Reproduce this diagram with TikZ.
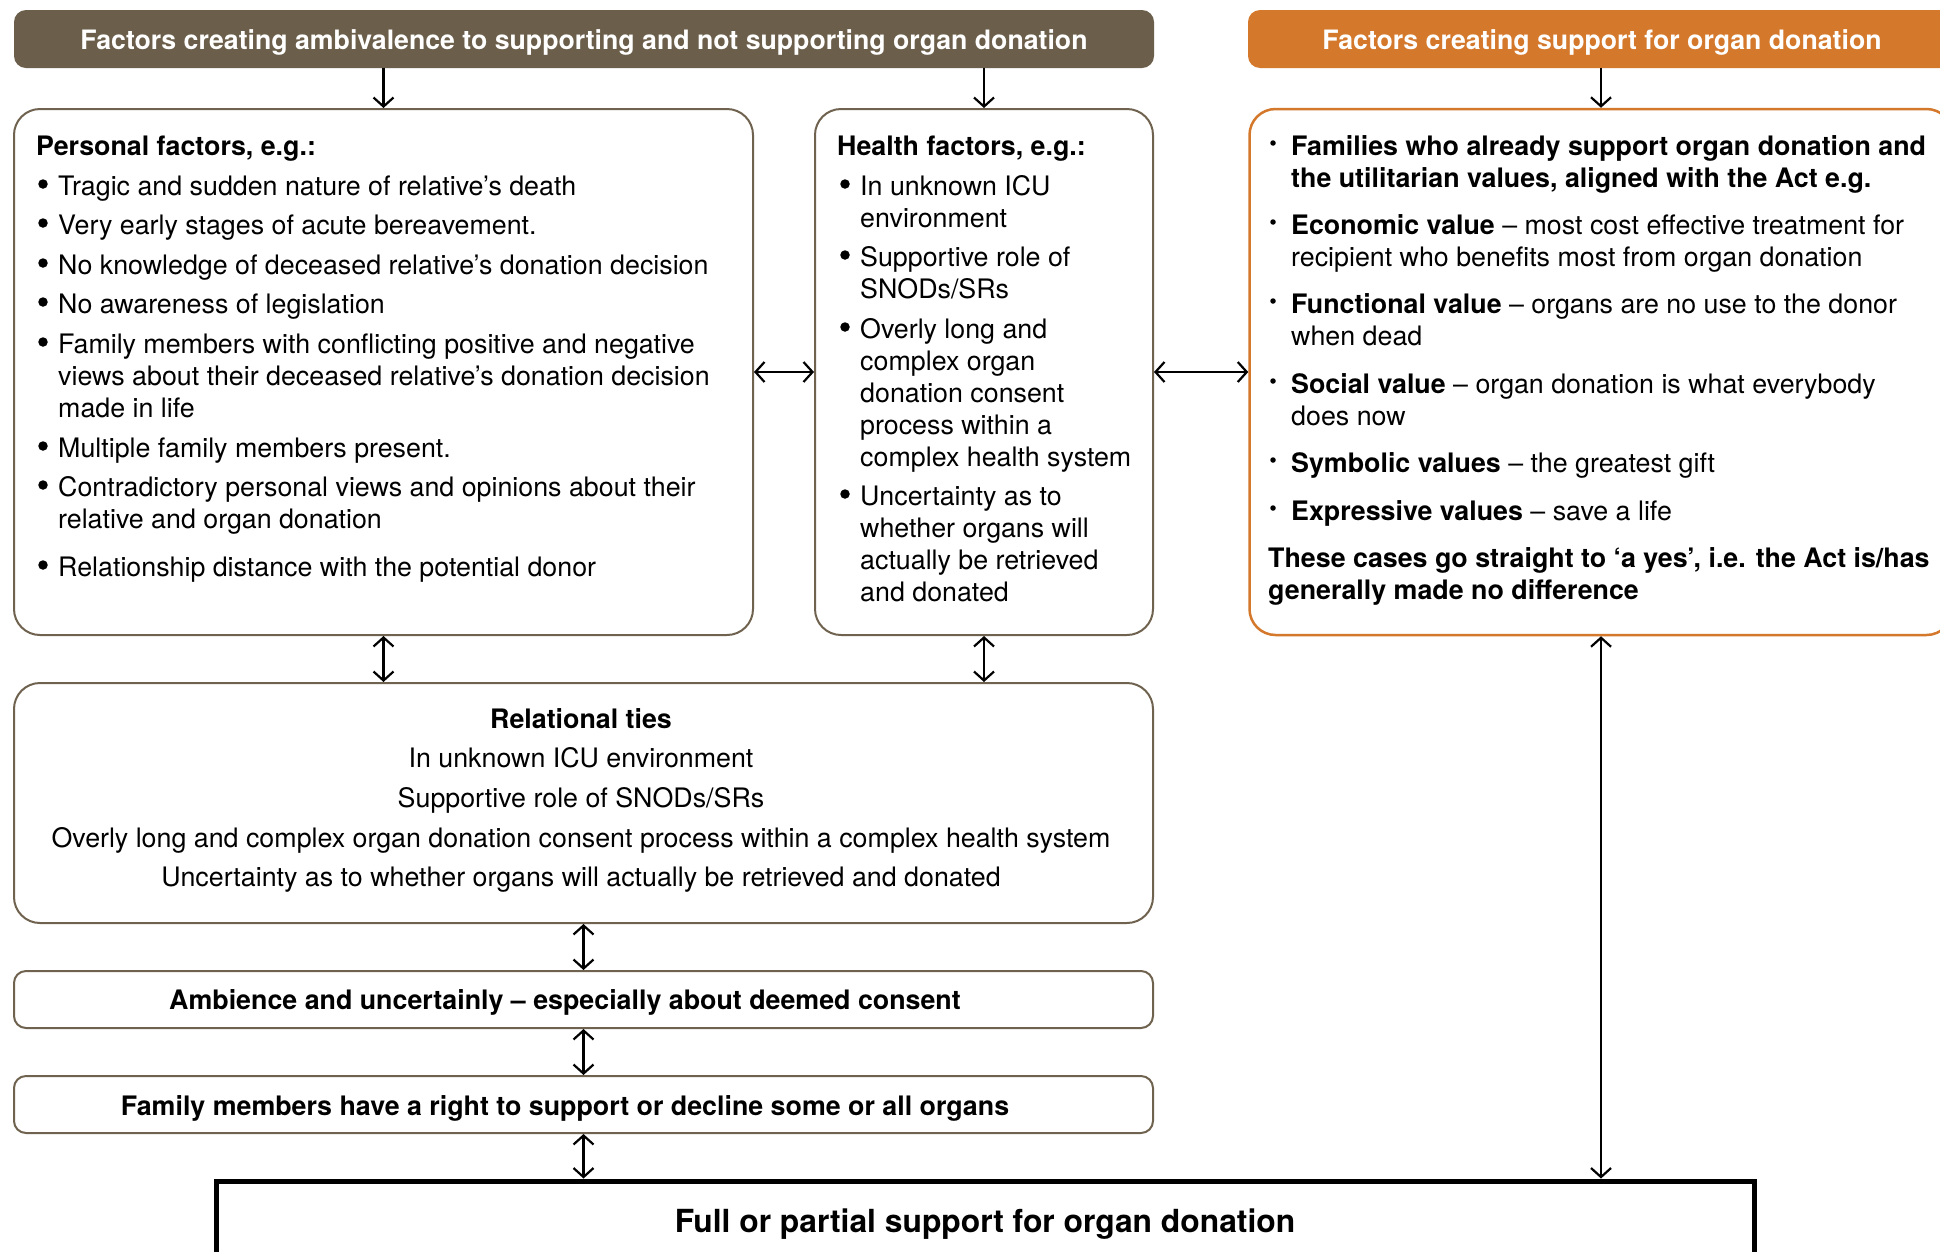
\documentclass[tikz,border=0pt]{standalone}
\usepackage{fontspec}
\setmainfont{TeX Gyre Heros}
\usetikzlibrary{arrows.meta}
\definecolor{hdrbrown}{HTML}{6B5E4A}
\definecolor{hdrorange}{HTML}{D4782C}
\definecolor{boxbrown}{HTML}{6F6350}
\newcounter{tcnt}
\newcommand\mytline[3]{\stepcounter{tcnt}\node[txt,anchor=base west] (t\arabic{tcnt}) at ({#1},{#2+9.3}) {#3};}
\newcommand\myctline[3]{\stepcounter{tcnt}\node[txt,anchor=base] (t\arabic{tcnt}) at ({#1},{#2+9.3}) {#3};}
\newcommand\bigbul[2]{\stepcounter{tcnt}\node[bulbig] (t\arabic{tcnt}) at ({#1},{#2-2}) {};}
\newcommand\smbul[2]{\stepcounter{tcnt}\node[bulsm] (t\arabic{tcnt}) at ({#1},{#2-3}) {};}
\begin{document}
\begin{tikzpicture}[x=1pt,y=-1pt,
  txt/.style={inner sep=0pt,font=\fontsize{26.8}{32}\selectfont},
  bulbig/.style={circle,fill=black,inner sep=0pt,minimum size=9.5pt},
  bulsm/.style={circle,fill=black,inner sep=0pt,minimum size=5.5pt},
  hdr/.style={rounded corners=12pt,inner sep=0pt},
  hdrtxt/.style={txt,text=white,font=\fontsize{26.7}{32}\selectfont\bfseries},
  bbox/.style={draw=boxbrown,line width=2pt,rounded corners=26pt,inner sep=0pt},
  sbox/.style={draw=boxbrown,line width=2pt,rounded corners=12pt,inner sep=0pt},
  obox/.style={draw=hdrorange,line width=2.5pt,rounded corners=26pt,inner sep=0pt},
  arr/.style={{Straight Barb[length=9pt,width=20pt]}-{Straight Barb[length=9pt,width=20pt]},line width=2.2pt},
  arrone/.style={-{Straight Barb[length=9pt,width=20pt]},line width=2.2pt}]
\useasboundingbox (0,0) rectangle (1940,1251);
\fill[white] (0,0) rectangle (1940,1251);
% headers
\node[hdr,fill=hdrbrown,minimum width=1140pt,minimum height=58pt] (hdr1) at (584,39) {};
\node[hdr,fill=hdrorange,minimum width=708pt,minimum height=58pt] (hdr2) at (1602,39) {};
\node[hdrtxt,anchor=base] (hdr1txt) at (584,49.5) {Factors creating ambivalence to supporting and not supporting organ donation};
\node[hdrtxt,anchor=base] (hdr2txt) at (1602,49.5) {Factors creating support for organ donation};
% boxes
\node[bbox,minimum width=739pt,minimum height=526pt] (personal) at (383.5,372) {};
\node[bbox,minimum width=338pt,minimum height=526pt] (health) at (984,372) {};
\node[obox,minimum width=703pt,minimum height=526pt] (orange) at (1601,372) {};
\node[bbox,minimum width=1139pt,minimum height=240pt] (rel) at (583.5,803) {};
\node[sbox,minimum width=1139pt,minimum height=57pt] (amb) at (583.5,999.5) {};
\node[sbox,minimum width=1139pt,minimum height=57pt] (fam) at (583.5,1104.5) {};
\node[draw=black,line width=5pt,minimum width=1538pt,minimum height=80pt,inner sep=0pt] (final) at (985,1221) {};
\myctline{565}{1000}{\textbf{Ambience and uncertainly – especially about deemed consent}}
\myctline{565}{1106}{\textbf{Family members have a right to support or decline some or all organs}}
\node[txt,anchor=base,font=\fontsize{31.8}{36}\selectfont\bfseries] (finaltxt) at (985,1232) {Full or partial support for organ donation};
% personal text
\mytline{36}{146}{\textbf{Personal factors, e.g.:}}
\bigbul{43}{186}\mytline{58}{186}{Tragic and sudden nature of relative’s death}
\bigbul{43}{225}\mytline{58}{225}{Very early stages of acute bereavement.}
\bigbul{43}{265}\mytline{58}{265}{No knowledge of deceased relative’s donation decision}
\bigbul{43}{304}\mytline{58}{304}{No awareness of legislation}
\bigbul{43}{344}\mytline{58}{344}{Family members with conflicting positive and negative}
\mytline{58}{376}{views about their deceased relative’s donation decision}
\mytline{58}{408}{made in life}
\bigbul{43}{448}\mytline{58}{448}{Multiple family members present.}
\bigbul{43}{487}\mytline{58}{487}{Contradictory personal views and opinions about their}
\mytline{58}{519}{relative and organ donation}
\bigbul{43}{567}\mytline{58}{567}{Relationship distance with the potential donor}
% health text
\mytline{837}{146}{\textbf{Health factors, e.g.:}}
\bigbul{845}{186}\mytline{860}{186}{In unknown ICU}
\mytline{860}{218}{environment}
\bigbul{845}{257}\mytline{860}{257}{Supportive role of}
\mytline{860}{289}{SNODs/SRs}
\bigbul{845}{329}\mytline{860}{329}{Overly long and}
\mytline{860}{361}{complex organ}
\mytline{860}{393}{donation consent}
\mytline{860}{425}{process within a}
\mytline{860}{457}{complex health system}
\bigbul{845}{496}\mytline{860}{496}{Uncertainty as to}
\mytline{860}{528}{whether organs will}
\mytline{860}{560}{actually be retrieved}
\mytline{860}{592}{and donated}
% orange text
\smbul{1273}{146}\mytline{1291}{146}{\textbf{Families who already support organ donation and}}
\mytline{1291}{178}{\textbf{the utilitarian values, aligned with the Act e.g.}}
\smbul{1273}{225}\mytline{1291}{225}{\textbf{Economic value} – most cost effective treatment for}
\mytline{1291}{257}{recipient who benefits most from organ donation}
\smbul{1273}{304}\mytline{1291}{304}{\textbf{Functional value} – organs are no use to the donor}
\mytline{1291}{336}{when dead}
\smbul{1273}{384}\mytline{1291}{384}{\textbf{Social value} – organ donation is what everybody}
\mytline{1291}{416}{does now}
\smbul{1273}{463}\mytline{1291}{463}{\textbf{Symbolic values} – the greatest gift}
\smbul{1273}{511}\mytline{1291}{511}{\textbf{Expressive values} – save a life}
\mytline{1268}{558}{\textbf{These cases go straight to ‘a yes’, i.e. the Act is/has}}
\mytline{1268}{590}{\textbf{generally made no difference}}
% relational text
\myctline{581}{719}{\textbf{Relational ties}}
\myctline{581}{758}{In unknown ICU environment}
\myctline{581}{798}{Supportive role of SNODs/SRs}
\myctline{581}{838}{Overly long and complex organ donation consent process within a complex health system}
\myctline{581}{877}{Uncertainty as to whether organs will actually be retrieved and donated}
% connectors
\draw[arrone] (personal.north |- hdr1.south) -- (personal.north);
\draw[arrone] (health.north |- hdr1.south) -- (health.north);
\draw[arrone] (orange.north |- hdr2.south) -- (orange.north);
\draw[arr] (personal.east) -- (health.west);
\draw[arr] (health.east) -- (orange.west);
\draw[arr] (personal.south) -- (personal.south |- rel.north);
\draw[arr] (health.south) -- (health.south |- rel.north);
\draw[arr] (rel.south) -- (amb.north);
\draw[arr] (amb.south) -- (fam.north);
\draw[arr] (fam.south) -- (fam.south |- final.north);
\draw[arr] (orange.south) -- (orange.south |- final.north);
\end{tikzpicture}
\end{document}
